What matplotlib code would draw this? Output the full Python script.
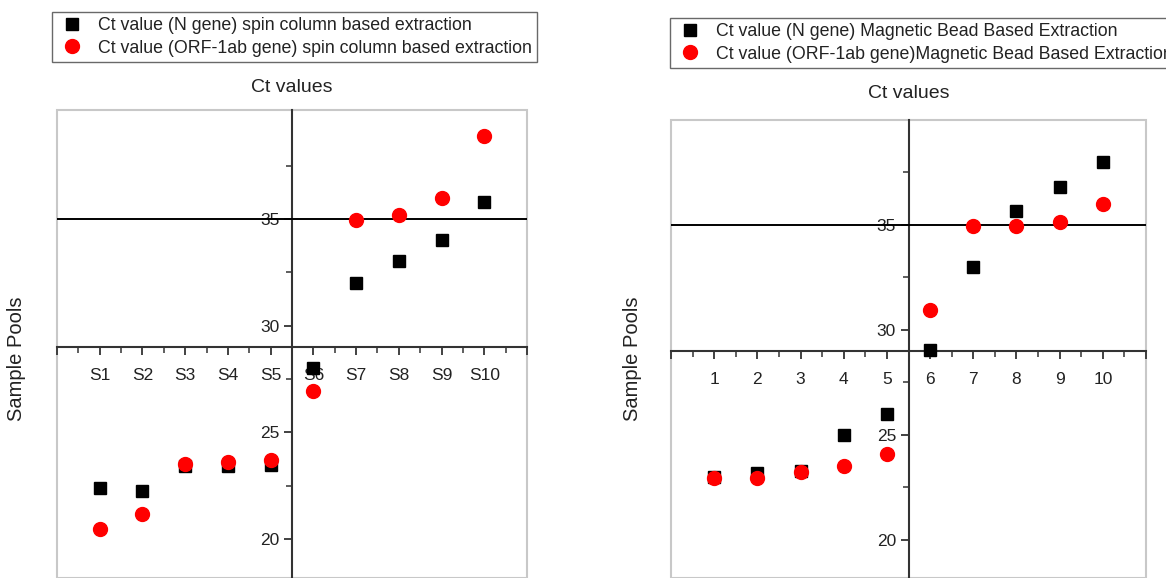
import matplotlib.pyplot as plt
from matplotlib.patches import Rectangle
from matplotlib.lines import Line2D
from matplotlib.ticker import MultipleLocator, FixedLocator

plt.rcParams['font.family'] = ['Liberation Sans Narrow', 'Liberation Sans', 'DejaVu Sans']

# spin column panel
spin_labels = ["S1", "S2", "S3", "S4", "S5", "S6", "S7", "S8", "S9", "S10"]
spin_n = [22.4, 22.25, 23.4, 23.4, 23.45, 28.0, 32.0, 33.05, 34.0, 35.8]
spin_orf = [20.47, 21.17, 23.5, 23.6, 23.7, 26.95, 34.95, 35.2, 36.0, 38.9]

# magnetic bead panel
bead_labels = ["1", "2", "3", "4", "5", "6", "7", "8", "9", "10"]
bead_n = [23.0, 23.2, 23.3, 25.0, 26.0, 29.05, 33.0, 35.67, 36.8, 38.0]
bead_orf = [22.95, 22.95, 23.25, 23.5, 24.1, 30.95, 34.95, 34.95, 35.15, 36.0]

legend_spin = ["Ct value (N gene) spin column based extraction",
               "Ct value (ORF-1ab gene) spin column based extraction"]
legend_bead = ["Ct value (N gene) Magnetic Bead Based Extraction",
               "Ct value (ORF-1ab gene)Magnetic Bead Based Extraction"]

W, H = 1166, 578
fig = plt.figure(figsize=(W / 100, H / 100), dpi=100)


def panel(rect, labels, n_vals, orf_vals, ylim, leg_labels, leg_xy, title_y, ylabel_x):
    ax = fig.add_axes(rect)
    xs = list(range(1, len(labels) + 1))
    ax.set_xlim(0, 11)
    ax.set_ylim(*ylim)

    for s in ["top", "right"]:
        ax.spines[s].set_visible(False)
    ax.spines["left"].set_position(("data", 5.5))
    ax.spines["bottom"].set_position(("data", 29))
    for s in ["left", "bottom"]:
        ax.spines[s].set_color("#333333")
        ax.spines[s].set_linewidth(1.5)
    ax.add_patch(Rectangle((0, 0), 1, 1, transform=ax.transAxes, fill=False,
                           edgecolor="#c8c8c8", lw=1.5, clip_on=False, zorder=1))

    ax.set_xticks(range(0, 12))
    ax.set_xticklabels([""] + labels + [""])
    ax.xaxis.set_minor_locator(MultipleLocator(0.5))
    ax.set_yticks([20, 25, 30, 35])
    ax.yaxis.set_minor_locator(FixedLocator([22.5, 27.5, 32.5, 37.5]))
    ax.tick_params(axis="both", which="major", length=6, width=1.3, color="#333333",
                   labelsize=12.5, labelcolor="#222222", direction="out", pad=3)
    ax.tick_params(axis="both", which="minor", length=4, width=1.1, color="#333333",
                   direction="out")
    ax.tick_params(axis="x", which="major", pad=9)

    ax.axhline(35, color="black", lw=1.4, zorder=3)

    ax.plot(xs, n_vals, "s", color="black", ms=9, zorder=6, clip_on=False)
    ax.plot(xs, orf_vals, "o", color="red", ms=10, zorder=7, clip_on=False)

    fig.text(rect[0] + rect[2] / 2, title_y, "Ct values", ha="center", va="center",
             fontsize=14, color="#222222")
    fig.text(ylabel_x, 0.38, "Sample Pools", rotation=90, ha="center", va="center",
             fontsize=14.5, color="#222222", family=["Liberation Sans", "DejaVu Sans"])

    handles = [Line2D([], [], marker="s", color="black", ls="none", ms=8),
               Line2D([], [], marker="o", color="red", ls="none", ms=10)]
    leg = fig.legend(handles, leg_labels, loc="upper left", bbox_to_anchor=leg_xy,
                     frameon=True, fancybox=False, edgecolor="#444444", fontsize=12.8,
                     handletextpad=0.7, borderpad=0.3, labelspacing=0.3,
                     handlelength=1.6, borderaxespad=0)
    leg.get_frame().set_linewidth(1.0)
    for t in leg.get_texts():
        t.set_color("#222222")
    return ax


panel([57 / W, 0, 470 / W, 1 - 110 / H], spin_labels, spin_n, spin_orf,
      (18.17, 40.12), legend_spin, (52 / W, 1 - 12 / H), 1 - 88 / H, 17 / W)
panel([671 / W, 0, 475 / W, 1 - 120 / H], bead_labels, bead_n, bead_orf,
      (18.19, 40.0), legend_bead, (670 / W, 1 - 18 / H), 1 - 93 / H, 632 / W)

fig.savefig("out.png", dpi=100)
